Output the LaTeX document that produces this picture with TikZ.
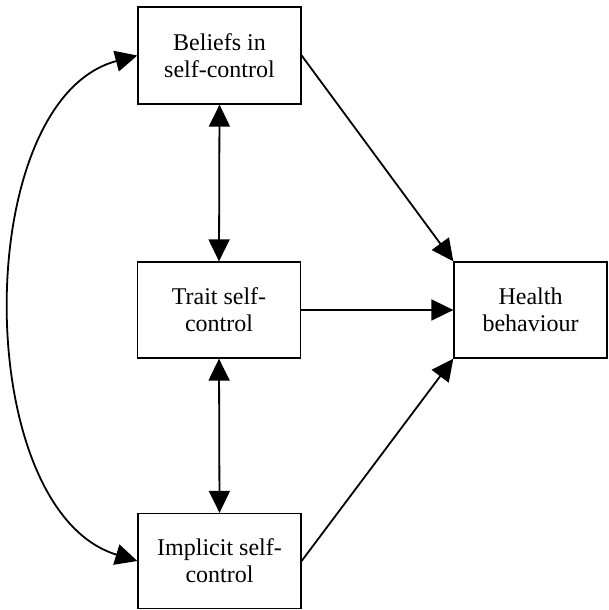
\documentclass[tikz,border=0pt]{standalone}
\usepackage{fontspec}
\setmainfont{Liberation Serif}
\usetikzlibrary{arrows.meta}
\begin{document}
\begin{tikzpicture}[x=1pt,y=-1pt,
  box/.style={draw, line width=1.3pt, minimum width=163pt, align=center, font=\fontsize{24}{27}\selectfont, inner sep=0pt},
  arr/.style={line width=1.8pt, -{Triangle[length=22pt,width=21pt]}},
  darr/.style={line width=1.8pt, {Triangle[length=22pt,width=21pt]}-{Triangle[length=22pt,width=21pt]}}]
\useasboundingbox (0,0) rectangle (609,610);
\node[box, minimum height=97pt] (bel) at (219.5,55.5) {Beliefs in\\self-control};
\node[box, minimum height=96pt] (tra) at (219,310) {Trait self-\\control};
\node[box, minimum height=95pt] (imp) at (219.5,561) {Implicit self-\\control};
\node[box, minimum width=153pt, minimum height=96pt] (hea) at (530.5,310) {Health\\behaviour};
\draw[arr] (bel.east) -- (hea.north west);
\draw[arr] (tra.east) -- (hea.west);
\draw[arr] (imp.east) -- (hea.south west);
\draw[darr] (bel.south) -- (tra.north);
\draw[darr] (tra.south) -- (imp.north);
\draw[darr] (bel.west) .. controls (-30,100) and (-30,510) .. (imp.west);
\end{tikzpicture}
\end{document}
